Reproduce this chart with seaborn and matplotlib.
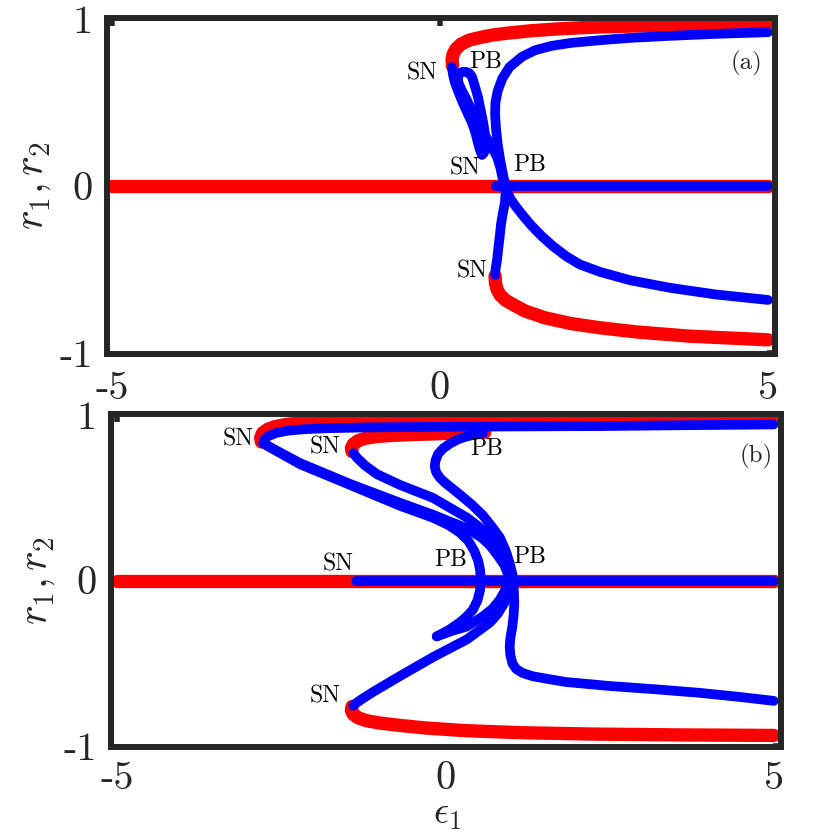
import matplotlib
matplotlib.use("Agg")
import matplotlib.pyplot as plt
import seaborn as sns
import pandas as pd

sns.set_theme(style="white")
plt.rcParams["font.family"] = ["cmr10", "DejaVu Serif"]
plt.rcParams["mathtext.fontset"] = "cm"
plt.rcParams["axes.unicode_minus"] = False
plt.rcParams["axes.formatter.use_mathtext"] = True

RED = "#ff0000"
BLUE = "#0000ff"
DARK = "#262626"

# ---------------- panel (a) ----------------
a_red_zero_x = [-5.0, 5.0]
a_red_zero_y = [0.0, 0.0]
a_blue_zero_x = [0.85, 5.0]
a_blue_zero_y = [0.0, 0.0]

a_red_up_x = [0.19, 0.185, 0.20, 0.24, 0.32, 0.45, 0.61, 0.80, 1.00, 1.37,
              1.80, 2.40, 3.20, 4.10, 5.00]
a_red_up_y = [0.72, 0.76, 0.79, 0.82, 0.85, 0.875, 0.89, 0.905, 0.915, 0.93,
              0.942, 0.953, 0.962, 0.970, 0.976]

a_red_low_x = [0.84, 0.845, 0.87, 0.92, 1.00, 1.11, 1.30, 1.60, 2.00, 2.44,
               3.00, 3.80, 5.00]
a_red_low_y = [-0.54, -0.58, -0.62, -0.655, -0.685, -0.71, -0.75, -0.79,
               -0.825, -0.85, -0.875, -0.90, -0.922]

a_blue_s_x = [5.0, 4.2, 3.5, 2.9, 2.44, 2.0, 1.7, 1.45, 1.25, 1.06, 0.95,
              0.88, 0.845, 0.84, 0.855, 0.88, 0.92, 0.97, 1.02, 1.08, 1.16,
              1.27, 1.40, 1.55, 1.72, 1.92, 2.13, 2.44, 2.90, 3.50, 4.20, 5.0]
a_blue_s_y = [0.922, 0.912, 0.90, 0.888, 0.874, 0.858, 0.84, 0.814, 0.775,
              0.713, 0.645, 0.57, 0.50, 0.43, 0.34, 0.25, 0.15, 0.05, -0.03,
              -0.08, -0.125, -0.18, -0.24, -0.30, -0.36, -0.42, -0.47, -0.515,
              -0.565, -0.61, -0.65, -0.683]

a_blue_loop_x = [0.18, 0.20, 0.23, 0.29, 0.35, 0.42, 0.49, 0.54, 0.58, 0.61,
                 0.64, 0.67, 0.69, 0.69, 0.66, 0.62, 0.58, 0.53, 0.49, 0.45,
                 0.41, 0.35, 0.30, 0.27, 0.28, 0.33, 0.41, 0.48, 0.56, 0.64,
                 0.73, 0.80, 0.87, 0.92, 0.96, 1.0, 0.99, 0.96, 0.93, 0.91,
                 0.89, 0.87, 0.85, 0.84]
a_blue_loop_y = [0.713, 0.665, 0.617, 0.555, 0.497, 0.437, 0.377, 0.32, 0.257,
                 0.215, 0.186, 0.198, 0.234, 0.30, 0.377, 0.455, 0.533, 0.60,
                 0.653, 0.675, 0.683, 0.685, 0.677, 0.655, 0.62, 0.575, 0.515,
                 0.455, 0.395, 0.335, 0.275, 0.225, 0.174, 0.11, 0.036,
                 -0.04, -0.10, -0.16, -0.23, -0.305, -0.37, -0.443, -0.49,
                 -0.533]

a_labels = ["SN", "PB", "SN", "PB", "SN"]
a_label_x = [-0.27, 0.69, 0.38, 1.37, 0.49]
a_label_y = [0.677, 0.743, 0.108, 0.126, -0.515]

# ---------------- panel (b) ----------------
b_red_zero_x = [-5.0, 5.0]
b_red_zero_y = [0.0, 0.0]
b_blue_zero_x = [-1.36, 5.0]
b_blue_zero_y = [0.0, 0.0]

b_red_outer_x = [-2.80, -2.81, -2.78, -2.70, -2.58, -2.40, -2.10, -1.60,
                 -0.80, 0.0, 1.2, 2.5, 5.0]
b_red_outer_y = [0.838, 0.865, 0.893, 0.915, 0.932, 0.945, 0.955, 0.962,
                 0.966, 0.969, 0.972, 0.975, 0.978]

b_red_inner_x = [-1.42, -1.43, -1.40, -1.33, -1.22, -1.05, -0.80, -0.50, 0.0,
                 0.30, 0.60]
b_red_inner_y = [0.780, 0.80, 0.825, 0.845, 0.86, 0.871, 0.878, 0.883, 0.889,
                 0.893, 0.896]

b_red_low_x = [-1.42, -1.43, -1.40, -1.33, -1.20, -1.00, -0.70, -0.30, 0.30,
               1.20, 2.30, 3.60, 5.0]
b_red_low_y = [-0.762, -0.785, -0.81, -0.83, -0.848, -0.862, -0.876, -0.892,
               -0.908, -0.921, -0.929, -0.934, -0.937]

b_blue_top_x = [-2.77, -2.76, -2.70, -2.58, -2.40, -2.15, -1.80, -1.20, 0.0,
                1.20, 2.34, 3.60, 5.0]
b_blue_top_y = [0.829, 0.85, 0.872, 0.892, 0.906, 0.915, 0.921, 0.926, 0.930,
                0.932, 0.934, 0.939, 0.944]

b_blue_d_x = [0.57, 0.45, 0.33, 0.20, 0.08, -0.03, -0.11, -0.15, -0.16, -0.14,
              -0.08, 0.0, 0.22, 0.40, 0.57, 0.72, 0.83, 0.92, 0.98, 1.02, 1.04,
              1.05, 1.04, 1.02, 0.99, 0.98, 0.99, 1.02, 1.08, 1.18, 1.33, 1.60,
              1.84, 2.50, 3.20, 3.86, 4.50, 5.0]
b_blue_d_y = [0.889, 0.882, 0.872, 0.855, 0.83, 0.80, 0.765, 0.725, 0.69,
              0.655, 0.62, 0.59, 0.52, 0.46, 0.395, 0.32, 0.26, 0.18, 0.105,
              0.04, -0.03, -0.136, -0.21, -0.28, -0.35, -0.40, -0.45, -0.50,
              -0.536, -0.56, -0.579, -0.598, -0.614, -0.638, -0.658, -0.679,
              -0.705, -0.728]

b_blue_p1_x = [-2.77, -2.60, -2.21, -1.45, -0.69, -0.19, 0.05, 0.22, 0.35,
               0.44, 0.50, 0.53, 0.54, 0.53, 0.49, 0.42, 0.32, 0.22, 0.05,
               -0.13]
b_blue_p1_y = [0.829, 0.79, 0.703, 0.578, 0.452, 0.380, 0.335, 0.290, 0.24,
               0.18, 0.12, 0.063, 0.0, -0.057, -0.12, -0.177, -0.22, -0.254,
               -0.30, -0.338]

b_blue_p2_x = [-0.13, 0.10, 0.33, 0.57, 0.72, 0.83, 0.91, 0.95, 0.96, 0.95,
               0.90, 0.83, 0.73, 0.63, 0.48, 0.33, 0.07, -0.19, -0.69, -1.04,
               -1.22, -1.34, -1.40]
b_blue_p2_y = [-0.338, -0.305, -0.278, -0.218, -0.17, -0.116, -0.06, -0.015,
               0.03, 0.063, 0.12, 0.164, 0.23, 0.285, 0.335, 0.380, 0.44, 0.500,
               0.578, 0.643, 0.695, 0.740, 0.770]

b_blue_p3_x = [-2.77, -2.60, -2.21, -1.45, -0.69, -0.19, 0.33, 0.55, 0.68,
               0.80, 0.90, 0.96, 0.98, 0.95, 0.90, 0.80, 0.68, 0.33, -0.19,
               -0.69, -1.10, -1.28, -1.37, -1.40]
b_blue_p3_y = [0.829, 0.792, 0.710, 0.584, 0.470, 0.398, 0.315, 0.26, 0.212,
               0.15, 0.093, 0.03, -0.027, -0.08, -0.135, -0.20, -0.254, -0.356,
               -0.464, -0.578, -0.674, -0.72, -0.745, -0.757]

b_labels = ["SN", "SN", "PB", "SN", "PB", "PB", "SN"]
b_label_x = [-3.15, -1.83, 0.63, -1.63, 0.08, 1.28, -1.83]
b_label_y = [0.853, 0.805, 0.793, 0.099, 0.123, 0.141, -0.704]

xticks = [-5, 0, 5]
xtick_labels = ["-5", "0", "5"]
yticks = [-1, 0, 1]
ytick_labels = ["-1", "0", "1"]

RED_LW = 9.6
BLUE_LW = 7.0


def draw(ax, xs, ys, color, lw):
    df = pd.DataFrame({"x": xs, "y": ys})
    sns.lineplot(data=df, x="x", y="y", sort=False, estimator=None, ax=ax,
                 color=color, linewidth=lw, solid_capstyle="round",
                 solid_joinstyle="round")


def style(ax, xlim, ylim, xpad):
    ax.set_xlim(*xlim)
    ax.set_ylim(*ylim)
    ax.set_xticks(xticks)
    ax.set_xticklabels(xtick_labels)
    ax.set_yticks(yticks)
    ax.set_yticklabels(ytick_labels)
    ax.tick_params(direction="in", length=6, width=4, color=DARK,
                   top=True, right=True, labelsize=29, labelcolor=DARK)
    ax.tick_params(axis="x", pad=xpad)
    ax.tick_params(axis="y", pad=10)
    for sp in ax.spines.values():
        sp.set_linewidth(4.3)
        sp.set_color(DARK)
        sp.set_zorder(5)
    ax.set_ylabel("$r_1,r_2$", fontsize=30, labelpad=5, color=DARK)
    ax.set_xlabel("")


fig = plt.figure(figsize=(8.3, 8.3), dpi=100)
ax_a = fig.add_axes([0.1289, 0.5729, 0.8054, 0.4060])
ax_b = fig.add_axes([0.1337, 0.0994, 0.8072, 0.4024])

# panel (a)
draw(ax_a, a_red_zero_x, a_red_zero_y, RED, RED_LW)
draw(ax_a, a_red_up_x, a_red_up_y, RED, RED_LW)
draw(ax_a, a_red_low_x, a_red_low_y, RED, RED_LW)
draw(ax_a, a_blue_zero_x, a_blue_zero_y, BLUE, BLUE_LW)
draw(ax_a, a_blue_s_x, a_blue_s_y, BLUE, BLUE_LW)
draw(ax_a, a_blue_loop_x, a_blue_loop_y, BLUE, BLUE_LW)
for t, x, y in zip(a_labels, a_label_x, a_label_y):
    ax_a.text(x, y, t, fontsize=17, ha="center", va="center", color="black")
ax_a.text(4.68, 0.737, "(a)", fontsize=18, ha="center", va="center")
style(ax_a, (-5.076, 5.114), (-1.01, 1.01), 12)

# panel (b)
draw(ax_b, b_red_zero_x, b_red_zero_y, RED, RED_LW)
draw(ax_b, b_red_outer_x, b_red_outer_y, RED, RED_LW)
draw(ax_b, b_red_inner_x, b_red_inner_y, RED, RED_LW)
draw(ax_b, b_red_low_x, b_red_low_y, RED, RED_LW)
draw(ax_b, b_blue_zero_x, b_blue_zero_y, BLUE, BLUE_LW)
draw(ax_b, b_blue_top_x, b_blue_top_y, BLUE, BLUE_LW)
draw(ax_b, b_blue_d_x, b_blue_d_y, BLUE, BLUE_LW)
draw(ax_b, b_blue_p1_x, b_blue_p1_y, BLUE, BLUE_LW)
draw(ax_b, b_blue_p2_x, b_blue_p2_y, BLUE, BLUE_LW)
draw(ax_b, b_blue_p3_x, b_blue_p3_y, BLUE, BLUE_LW)
for t, x, y in zip(b_labels, b_label_x, b_label_y):
    ax_b.text(x, y, t, fontsize=17, ha="center", va="center", color="black")
ax_b.text(4.74, 0.751, "(b)", fontsize=18, ha="center", va="center")
style(ax_b, (-5.09, 5.11), (-1.01, 1.01), 10)
ax_b.set_xlabel("$\\epsilon_1$", fontsize=27, color=DARK)
ax_b.xaxis.set_label_coords(0.501, -0.152)

fig.savefig("out.png", dpi=100)
